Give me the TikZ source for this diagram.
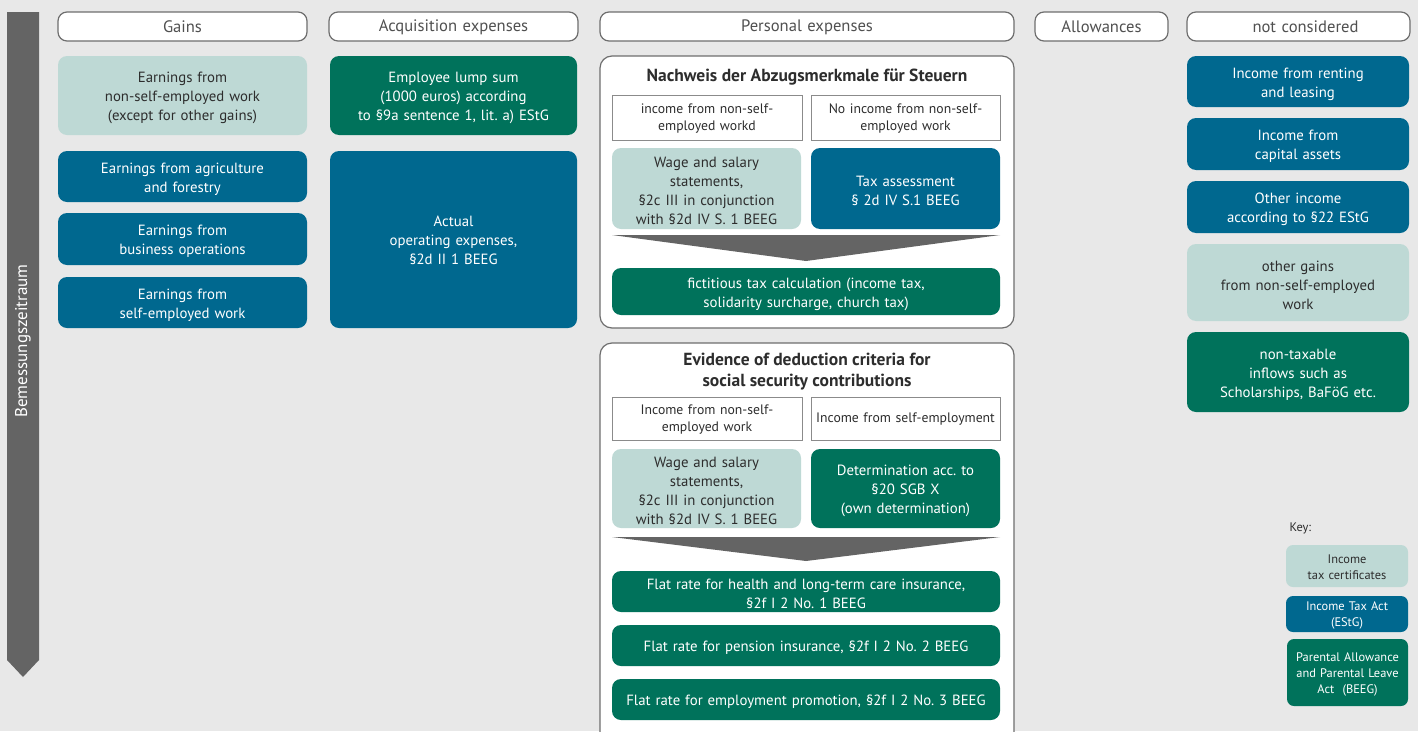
\documentclass[tikz,border=0pt]{standalone}
\usepackage{fontspec}
\setmainfont{PT Sans}
\frenchspacing
\begin{document}
\definecolor{bgc}{RGB}{232,232,232}
\definecolor{tealL}{RGB}{190,217,213}
\definecolor{blueE}{RGB}{0,104,143}
\definecolor{greenB}{RGB}{0,114,91}
\definecolor{arrowc}{RGB}{100,100,100}
\definecolor{txtd}{RGB}{45,45,45}
\definecolor{hdrtxt}{RGB}{80,80,80}
\definecolor{edgec}{RGB}{110,110,110}
\begin{tikzpicture}[x=1pt,y=-1pt,
  base/.style={rounded corners=9pt, inner sep=2pt, align=center,
    font=\fontsize{14.8}{19}\selectfont},
  light/.style={base, fill=tealL, text=txtd},
  blue/.style={base, fill=blueE, text=white},
  green/.style={base, fill=greenB, text=white},
  header/.style={rounded corners=9pt, draw=edgec, line width=1.2pt, fill=white,
    align=center, text=hdrtxt, font=\fontsize{16.6}{18}\selectfont},
  panel/.style={rounded corners=12pt, draw=edgec, line width=1.2pt, fill=white},
  case/.style={draw=edgec!80, line width=0.8pt, fill=white, text=txtd, align=center,
    inner sep=1pt, font=\fontsize{13.7}{17}\selectfont},
  ptitle/.style={text=txtd, align=center, font=\bfseries\fontsize{17.5}{21}\selectfont},
  keybox/.style={font=\fontsize{12.4}{16}\selectfont, rounded corners=7pt},
  bare/.style={fill=none, draw=none, minimum width=0pt, minimum height=0pt},
]
% box from corner (x1,y1) to corner (x2,y2)
\newcommand\bx[6]{%
  \node[#2, minimum width={#5-#3}, minimum height={#6-#4}]
    (#1) at ({(#3+#5)/2},{(#4+#6)/2}) {};}
% text at the centre of a box, lowered by the optional amount
\pgfkeys{/tikz/bxw/.initial=200pt}
\newcommand\bt[4][-2.5pt]{%
  \node[#3, bare, text width={\pgfkeysvalueof{/tikz/bxw}}]
    (#2-txt) at ([yshift=#1]#2.center) {#4};}
% box with text
\newcommand\bxt[8][-2.5pt]{%
  \bx{#2}{#3}{#4}{#5}{#6}{#7}%
  \pgfkeys{/tikz/bxw/.expanded={\the\dimexpr #6pt-#4pt-8pt\relax}}%
  \bt[#1]{#2}{#3}{#8}}

\fill[bgc] (0,0) rectangle (1418,731);
\useasboundingbox (0,0) rectangle (1418,731);

% time axis
\fill[arrowc] (7,12) -- (39,12) -- (39,660) -- (23,677) -- (7,660) -- cycle;
\node[rotate=90, text=white, font=\fontsize{17}{18}\selectfont] (axis) at (23,341) {Bemessungszeitraum};

% column headers
\bxt[-0.5pt]{hGains}{header}{58}{12}{307}{41}{Gains}
\bxt[-0.5pt]{hAcq}{header}{329}{12}{578}{41}{Acquisition expenses}
\bxt[-0.5pt]{hPers}{header}{600}{12}{1014}{41}{Personal expenses}
\bxt[-0.5pt]{hAllow}{header}{1035}{12}{1168}{41}{Allowances}
\bxt[-0.5pt]{hNot}{header}{1187}{12}{1410}{41}{\hspace{14pt}not considered}

% gains
\bxt{g1}{light}{58}{56}{307}{135}{Earnings from\\non-self-employed work\\(except for other gains)}
\bxt{g2}{blue}{58}{151}{307}{202}{Earnings from agriculture\\and forestry}
\bxt{g3}{blue}{58}{213}{307}{265}{Earnings from\\business operations}
\bxt{g4}{blue}{58}{277}{307}{328}{Earnings from\\self-employed work}

% acquisition expenses
\bxt{a1}{green}{330}{56}{577}{135}{Employee lump sum\\(1000 euros) according\\to §9a sentence 1, lit. a) EStG}
\bxt[-0.5pt]{a2}{blue}{330}{151}{577}{328}{Actual\\operating expenses,\\§2d II 1 BEEG}

% personal expenses: taxes
\bx{p1}{panel}{600}{56}{1014}{328}
\node[ptitle] (p1t) at (807,77) {Nachweis der Abzugsmerkmale für Steuern};
\bxt[-1pt]{p1a}{case}{612}{95}{802}{140}{income from non-self-\\employed workd}
\bxt[-1pt]{p1b}{case}{811}{95}{1000}{140}{No income from non-self-\\employed work}
\bxt{p1c}{light}{612}{148}{801}{229}{Wage and salary\\statements,\\§2c III in conjunction\\with §2d IV S. 1 BEEG}
\bxt{p1d}{blue}{811}{148}{1000}{229}{Tax assessment\\§ 2d IV S.1 BEEG}
\fill[arrowc] (612,235) -- (1000,235) -- (806,261) -- cycle;
\bxt{p1e}{green}{612}{268}{1000}{315}{fictitious tax calculation (income tax,\\solidarity surcharge, church tax)}

% personal expenses: social security
\bx{p2}{panel}{600}{343}{1014}{745}
\node[ptitle] (p2t) at (807,372) {Evidence of deduction criteria for\\social security contributions};
\bxt[-1pt]{p2a}{case}{612}{397}{802}{440}{Income from non-self-\\employed work}
\bxt[-1pt]{p2b}{case}{811}{397}{1000}{440}{Income from self-employment}
\bxt{p2c}{light}{612}{449}{801}{528}{Wage and salary\\statements,\\§2c III in conjunction\\with §2d IV S. 1 BEEG}
\bxt{p2d}{green}{811}{449}{1000}{528}{Determination acc. to\\§20 SGB X\\(own determination)}
\fill[arrowc] (612,537) -- (1000,537) -- (806,561) -- cycle;
\bxt{p2e}{green}{612}{571}{1000}{612}{Flat rate for health and long-term care insurance,\\§2f I 2 No. 1 BEEG}
\bxt{p2f}{green}{612}{625}{1000}{666}{Flat rate for pension insurance, §2f I 2 No. 2 BEEG}
\bxt{p2g}{green}{612}{679}{1000}{720}{Flat rate for employment promotion, §2f I 2 No. 3 BEEG}

% not considered
\bxt{n1}{blue}{1187}{56}{1409}{107}{Income from renting\\and leasing}
\bxt{n2}{blue}{1187}{118}{1409}{170}{Income from\\capital assets}
\bxt{n3}{blue}{1187}{181}{1409}{233}{Other income\\according to §22 EStG}
\bxt{n4}{light}{1187}{244}{1409}{321}{other gains\\from non-self-employed\\work}
\bxt{n5}{green}{1187}{332}{1409}{412}{non-taxable\\inflows such as\\Scholarships, BaFöG etc.}

% key
\node[anchor=west, text=txtd, font=\fontsize{12.4}{14}\selectfont] (keyt) at (1286,528) {Key:};
\bxt[-1.5pt]{k1}{light,keybox}{1286}{545}{1408}{587}{Income\\tax certificates}
\bxt[-1.5pt]{k2}{blue,keybox}{1286}{596}{1408}{632}{Income Tax Act\\(EStG)}
\bxt[-1.5pt]{k3}{green,keybox}{1287}{639}{1408}{706}{Parental Allowance\\and Parental Leave\\Act~~(BEEG)}
\end{tikzpicture}
\end{document}
